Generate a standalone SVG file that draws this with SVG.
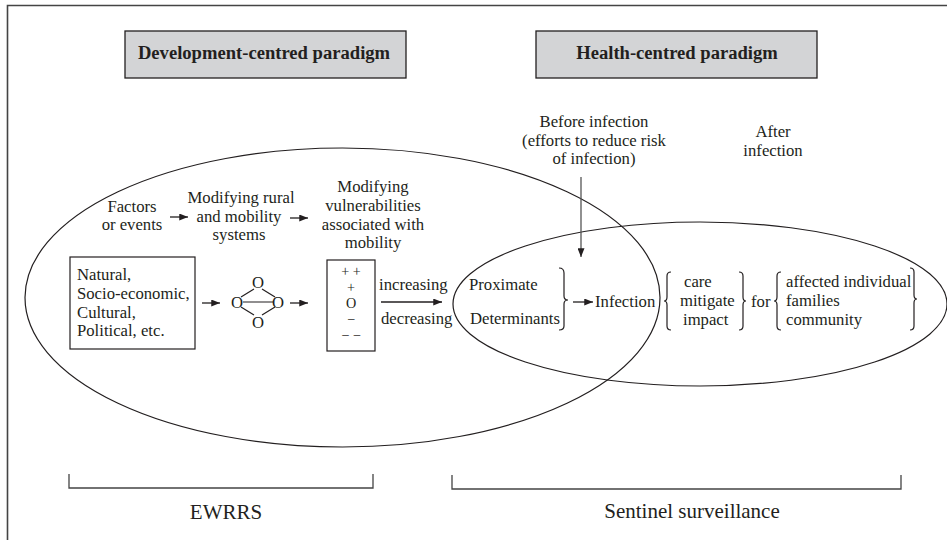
<svg xmlns="http://www.w3.org/2000/svg" width="947" height="540" viewBox="0 0 947 540">
<defs>
<marker id="ah" viewBox="0 0 10 8" refX="10" refY="4" markerWidth="9" markerHeight="7" markerUnits="userSpaceOnUse" orient="auto">
<path d="M0,0 L10,4 L0,8 z" fill="#231f20"/>
</marker>
<style>
text{font-family:"Liberation Serif","Times New Roman",serif;fill:#231f20;font-size:16.7px}
.title{font-size:18.6px;font-weight:bold;text-anchor:middle}
.c{text-anchor:middle}
.sym{font-size:14.2px;text-anchor:middle}
.big{font-size:21px;text-anchor:middle}
.ln{stroke:#231f20;stroke-width:1.2;fill:none}
.box{fill:#fff;stroke:#231f20;stroke-width:1.2}
.pbox{fill:#d3d4d6;stroke:#231f20;stroke-width:1.3}
.arr{stroke:#231f20;stroke-width:1.3;fill:none;marker-end:url(#ah)}
.br{stroke:#231f20;stroke-width:1.2;fill:none}
.brk{stroke:#444;stroke-width:1.3;fill:none}
</style>
</defs>
<rect width="947" height="540" fill="#fff"/>
<path d="M7.5,540 V5.5 H947" fill="none" stroke="#444" stroke-width="1.6"/>

<g id="dev-paradigm">
<rect class="pbox" x="125" y="31" width="281" height="47"/>
<text class="title" x="264" y="59">Development-centred paradigm</text>
</g>
<g id="health-paradigm">
<rect class="pbox" x="536" y="31" width="281" height="47"/>
<text class="title" x="677" y="59">Health-centred paradigm</text>
</g>

<g id="dev-ellipse"><ellipse class="ln" cx="342.5" cy="297.5" rx="317.5" ry="149.5"/></g>
<g id="health-ellipse"><ellipse class="ln" cx="700" cy="304" rx="247" ry="82"/></g>

<g id="factors">
<text class="c" x="132" y="212">Factors</text>
<text class="c" x="132" y="230">or events</text>
</g>
<g id="mod-rural">
<text class="c" x="241" y="203">Modifying rural</text>
<text class="c" x="239" y="222">and mobility</text>
<text class="c" x="239" y="240">systems</text>
</g>
<g id="mod-vuln">
<text class="c" x="373" y="192">Modifying</text>
<text class="c" x="373" y="211">vulnerabilities</text>
<text class="c" x="373" y="230">associated with</text>
<text class="c" x="373" y="248">mobility</text>
</g>

<g id="natural">
<rect class="box" x="70" y="257" width="125" height="92"/>
<text x="77" y="280">Natural,</text>
<text x="77" y="299">Socio-economic,</text>
<text x="77" y="317.5">Cultural,</text>
<text x="77" y="336">Political, etc.</text>
</g>

<g id="system-diamond">
<text class="c" x="258" y="288">O</text>
<text class="c" x="237" y="308">O</text>
<text class="c" x="278" y="308">O</text>
<text class="c" x="258" y="328">O</text>
<path class="ln" d="M243,302 H273 M241,297 L254,289 M262,289 L275,297 M241,307 L254,315 M262,315 L275,307"/>
</g>

<g id="vuln-scale">
<rect class="box" x="327" y="260" width="48" height="91"/>
<text class="sym" x="351" y="276">+ +</text>
<text class="sym" x="351" y="292">+</text>
<text class="sym" x="351" y="308">O</text>
<text class="sym" x="351" y="324">−</text>
<text class="sym" x="351" y="340">− −</text>
</g>

<g id="inc-dec">
<text x="379" y="290">increasing</text>
<text x="381" y="324">decreasing</text>
</g>

<g id="determinants">
<text x="469" y="290">Proximate</text>
<text x="470" y="324">Determinants</text>
<path class="br" d="M559,268 Q564,268 564,273 L564,296 Q564,300 568,300 Q564,300 564,304 L564,326 Q564,330 559,330"/>
</g>

<g id="infection"><text x="595" y="307">Infection</text></g>

<g id="before-infection">
<text class="c" x="594" y="127">Before infection</text>
<text class="c" x="594" y="145.5">(efforts to reduce risk</text>
<text class="c" x="594" y="164">of infection)</text>
</g>
<g id="after-infection">
<text class="c" x="773" y="137">After</text>
<text class="c" x="773" y="156">infection</text>
</g>

<g id="care">
<path class="br" d="M671,272 Q667,272 667,276 L667,297 Q667,301 664,301 Q667,301 667,305 L667,326 Q667,330 671,330"/>
<text x="684" y="287">care</text>
<text x="680" y="306">mitigate</text>
<text x="683" y="325">impact</text>
<path class="br" d="M739,272 Q743,272 743,276 L743,297 Q743,301 746,301 Q743,301 743,305 L743,326 Q743,330 739,330"/>
</g>
<g id="for"><text x="751" y="307">for</text></g>
<g id="affected">
<path class="br" d="M781,272 Q777,272 777,276 L777,297 Q777,301 774,301 Q777,301 777,305 L777,326 Q777,330 781,330"/>
<text x="786" y="287">affected individual</text>
<text x="786" y="306">families</text>
<text x="786" y="325">community</text>
<path class="br" d="M910,268 Q914,268 914,272 L914,295 Q914,299 917,299 Q914,299 914,303 L914,326 Q914,330 910,330"/>
</g>

<g id="ewrrs">
<path class="brk" d="M69,474 V488 H373 V474"/>
<text class="big" x="226" y="519">EWRRS</text>
</g>
<g id="sentinel">
<path class="brk" d="M452,475 V489 H901 V475"/>
<text class="big" x="692" y="518">Sentinel surveillance</text>
</g>

<g id="connectors">
<line class="arr" x1="170" y1="217" x2="188" y2="217"/>
<line class="arr" x1="290" y1="218" x2="308" y2="218"/>
<line class="arr" x1="202" y1="303" x2="220" y2="303"/>
<line class="arr" x1="290" y1="303" x2="308" y2="303"/>
<line class="arr" x1="381" y1="302" x2="442" y2="302"/>
<line class="arr" x1="573" y1="302" x2="593" y2="302"/>
<line class="arr" x1="581" y1="177" x2="581" y2="257" style="stroke:#555"/>
</g>
</svg>
